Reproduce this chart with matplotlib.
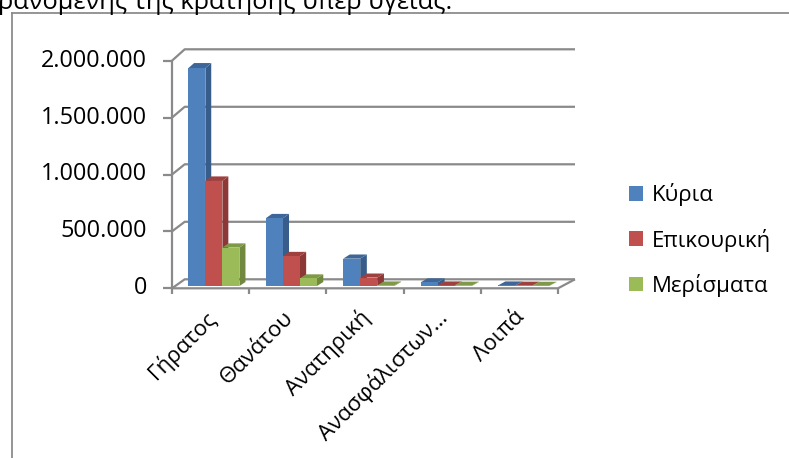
import matplotlib
matplotlib.use('Agg')
import matplotlib.pyplot as plt
from matplotlib.patches import Polygon, Patch
from matplotlib.lines import Line2D

plt.rcParams['font.family'] = ['Open Sans', 'DejaVu Sans']

# data
categories = ['Γήρατος', 'Θανάτου', 'Ανατηρική', 'Ανασφάλιστων…', 'Λοιπά']
series_names = ['Κύρια', 'Επικουρική', 'Μερίσματα']
kyria = [1910000, 594000, 240000, 32000, 5000]
epikouriki = [921000, 263000, 74000, 5000, 3000]
merismata = [337000, 67000, 5000, 3000, 2000]
yticks = [0, 500000, 1000000, 1500000, 2000000]

# front / side / top colours for each series
colours = [('#4F81BD', '#385D8A', '#3F6699'),
           ('#C0504D', '#8C3836', '#9E403D'),
           ('#9BBB59', '#71893F', '#7E9A48')]

W, H = 789, 458
fig = plt.figure(figsize=(W / 100, H / 100), dpi=100)

# front plane of the 3d box in pixels
fx0, fx1, fy0, fy1 = 172, 558, 288.3, 60.7
ax = fig.add_axes([fx0 / W, (H - fy0) / H, (fx1 - fx0) / W, (fy0 - fy1) / H])
ax.set_xlim(-0.5, len(categories) - 0.5)
ax.set_ylim(0, yticks[-1])
ax.axis('off')

ux = len(categories) / (fx1 - fx0)     # data units per pixel
uy = yticks[-1] / (fy0 - fy1)


def deep(x, v, t):
    # point pushed back into the box by depth fraction t
    ddx = 12.7 + 4.3 * (x + 0.5) / len(categories)
    ddy = 9 + 2.4 * v / yticks[-1]
    return (x + t * ddx * ux, v + t * ddy * uy)


grid_c = '#8A8A8A'
kw = dict(color=grid_c, lw=1.6, clip_on=False, zorder=1, solid_capstyle='butt')
xl, xr = -0.5, len(categories) - 0.5
for v in yticks:
    pts = [deep(xl, v, 0), deep(xl, v, 1), deep(xr, v, 1)]
    ax.plot([p[0] for p in pts], [p[1] for p in pts], **kw)
    ax.plot([xl - 9 * ux, xl], [v, v], **kw)
    ax.text(xl - 25 * ux, v, f'{v:,.0f}'.replace(',', '.'), ha='right', va='center',
            fontsize=16.8)

# front axis line and floor
ax.plot([xl, xl], [0, yticks[-1]], **kw)
pts = [deep(xl, 0, 0), deep(xr, 0, 0), deep(xr, 0, 1)]
ax.plot([p[0] for p in pts], [p[1] for p in pts], **kw)
for k in range(len(categories) + 1):
    ax.plot([xl + k, xl + k], [0, -6 * uy], **kw)

# 3d columns
values = [kyria, epikouriki, merismata]
bw = 0.22
d0, d1 = 0.25, 0.7
z = 3
for i in range(len(categories)):
    for j, vals in enumerate(values):
        v = vals[i]
        left = i + (j - 1) * bw - bw / 2
        right = left + bw
        front = [deep(left, 0, d0), deep(right, 0, d0), deep(right, v, d0), deep(left, v, d0)]
        side = [deep(right, 0, d0), deep(right, 0, d1), deep(right, v, d1), deep(right, v, d0)]
        top = [deep(left, v, d0), deep(right, v, d0), deep(right, v, d1), deep(left, v, d1)]
        fc, sc, tc = colours[j]
        ax.add_patch(Polygon(side, closed=True, fc=sc, ec='none', zorder=z, clip_on=False))
        ax.add_patch(Polygon(top, closed=True, fc=tc, ec='none', zorder=z, clip_on=False))
        ax.add_patch(Polygon(front, closed=True, fc=fc, ec='none', zorder=z + 0.5, clip_on=False))
        z += 1

for i, name in enumerate(categories):
    ax.text(i + 2 * ux, -26 * uy, name, rotation=45, rotation_mode='anchor',
            ha='right', va='center', fontsize=16)

handles = [Patch(fc=c[0], ec='none') for c in colours]
fig.legend(handles, series_names, loc='center left', bbox_to_anchor=(609 / W, 1 - 240 / H),
           frameon=False, fontsize=16, handlelength=0.65, handleheight=0.65,
           handletextpad=0.4, labelspacing=1.0)

# chart border (left and top only visible)
fig.add_artist(Line2D([11.5 / W, 11.5 / W], [0, 1 - 13 / H], color='#8C8C8C', lw=1.3))
fig.add_artist(Line2D([11.5 / W, 1], [1 - 13 / H, 1 - 13 / H], color='#8C8C8C', lw=1.3))

# cut-off line of text above the chart
fig.text(-2 / W, 1 - 9 / H, 'ρανομένης της κράτησης υπέρ υγείας.', ha='left',
         va='baseline', fontsize=18.4)

fig.savefig('out.png', dpi=100)
